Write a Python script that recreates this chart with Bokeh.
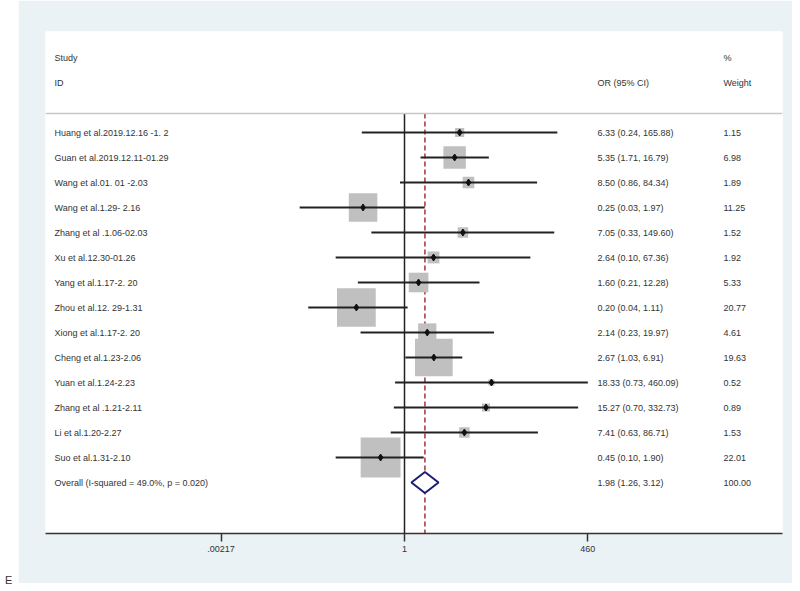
import math
from bokeh.plotting import figure
from bokeh.models import Range1d, FixedTicker, Span, Div
from bokeh.layouts import row
from bokeh.core.properties import value
from bokeh.embed import file_html
from bokeh.resources import INLINE

# ---------------- data ----------------
studies = [
    "Huang  et al.2019.12.16 -1. 2",
    "Guan et al.2019.12.11-01.29",
    "Wang et al.01. 01 -2.03",
    "Wang et al.1.29- 2.16",
    "Zhang  et al .1.06-02.03",
    "Xu et al.12.30-01.26",
    "Yang et al.1.17-2. 20",
    "Zhou et al.12. 29-1.31",
    "Xiong  et al.1.17-2. 20",
    "Cheng et al.1.23-2.06",
    "Yuan  et al.1.24-2.23",
    "Zhang et al .1.21-2.11",
    "Li et al.1.20-2.27",
    "Suo et al.1.31-2.10",
]
odds = [6.33, 5.35, 8.50, 0.25, 7.05, 2.64, 1.60, 0.20, 2.14, 2.67, 18.33, 15.27, 7.41, 0.45]
lower = [0.24, 1.71, 0.86, 0.03, 0.33, 0.10, 0.21, 0.04, 0.23, 1.03, 0.73, 0.70, 0.63, 0.10]
upper = [165.88, 16.79, 84.34, 1.97, 149.60, 67.36, 12.28, 1.11, 19.97, 6.91, 460.09, 332.73, 86.71, 1.90]
weights = [1.15, 6.98, 1.89, 11.25, 1.52, 1.92, 5.33, 20.77, 4.61, 19.63, 0.52, 0.89, 1.53, 22.01]

overall_label = "Overall  (I-squared = 49.0%, p = 0.020)"
overall_or = 1.98
overall_lo = 1.26
overall_hi = 3.12
overall_weight = "100.00"

tick_values = [0.00217, 1, 460]
tick_labels = [".00217", "1", "460"]

# ---------------- layout helpers ----------------
PX_PER_LN = 29.9      # screen px per natural-log unit
X0_PX = 404           # page x of OR = 1
FRAME_L, FRAME_R = 45, 782
FIG_L = 18
FIG_T = 0


def px_to_x(px):
    return math.exp((px - X0_PX) / PX_PER_LN)


ROW_PX = 25.0
ROW1_PX = 132.0
FRAME_T, FRAME_B = 31, 533


def py_to_y(py):
    return 1 + (py - ROW1_PX) / ROW_PX


rows = list(range(1, len(studies) + 1))
overall_row = len(studies) + 1
sep_y = py_to_y(113)
y_bottom = py_to_y(FRAME_B)

TEXT_FONT = value("Liberation Sans")
TEXT_SIZE = "9px"
TEXT_COLOR = "#333333"

FIG_W, FIG_H = 774, 583

p = figure(
    width=FIG_W, height=FIG_H,
    x_axis_type="log",
    x_range=Range1d(px_to_x(FRAME_L), px_to_x(FRAME_R)),
    y_range=Range1d(y_bottom, py_to_y(FRAME_T)),
    y_axis_location=None,
    toolbar_location=None,
    output_backend="svg",
    min_border_left=FRAME_L - FIG_L,
    min_border_right=FIG_L + FIG_W - FRAME_R,
    min_border_top=FRAME_T - FIG_T,
    min_border_bottom=FIG_T + FIG_H - FRAME_B,
)
p.border_fill_color = "#eaf2f6"
p.background_fill_color = "white"
p.outline_line_color = None
p.xgrid.visible = False
p.ygrid.visible = False

# separator line under the header
p.add_layout(Span(location=sep_y, dimension="width", line_color="#c8c8c8", line_width=1.5))

# null line at OR = 1
p.segment(x0=[1], y0=[sep_y], x1=[1], y1=[y_bottom], line_color="#222222", line_width=1.5)
# dashed line at overall estimate
p.segment(x0=[overall_or], y0=[sep_y], x1=[overall_or], y1=[y_bottom],
          line_color="#a8323c", line_width=1.5, line_dash="5 3")

# weight boxes (area ~ weight)
sides = [8.5 * math.sqrt(w) for w in weights]
p.rect(x=odds, y=rows, width=sides, height=sides, width_units="screen", height_units="screen",
       fill_color="#c0c0c0", line_color=None)

# confidence intervals
p.segment(x0=lower, y0=rows, x1=upper, y1=rows, line_color="#222222", line_width=1.8)

# point estimates
p.scatter(x=odds, y=rows, marker="diamond", size=7, fill_color="#111111", line_color="#111111")

# overall diamond
h = 10.5 / ROW_PX
p.patch(x=[overall_lo, overall_or, overall_hi, overall_or],
        y=[overall_row, overall_row - h, overall_row, overall_row + h],
        fill_color="white", line_color="#1c1c74", line_width=2)

# ---------------- text columns ----------------
name_x = px_to_x(54)
or_x = px_to_x(597)
w_x = px_to_x(723)

labels_or = ["%.2f (%.2f, %.2f)" % (o, l, u) for o, l, u in zip(odds, lower, upper)]
labels_w = ["%.2f" % w for w in weights]

common = dict(text_font=TEXT_FONT, text_font_size=TEXT_SIZE, text_color=TEXT_COLOR,
              text_baseline="middle", text_align="left")

p.text(x=[name_x] * (len(studies) + 1), y=rows + [overall_row], text=studies + [overall_label], **common)
p.text(x=[or_x] * (len(studies) + 1), y=rows + [overall_row],
       text=labels_or + ["%.2f (%.2f, %.2f)" % (overall_or, overall_lo, overall_hi)], **common)
p.text(x=[w_x] * (len(studies) + 1), y=rows + [overall_row], text=labels_w + [overall_weight], **common)

# header
p.text(x=[name_x, name_x, or_x, w_x, w_x],
       y=[py_to_y(57), py_to_y(82), py_to_y(82), py_to_y(57), py_to_y(82)],
       text=["Study", "ID", "OR (95% CI)", "%", "Weight"], **common)

# ---------------- axis ----------------
ax = p.xaxis[0]
ax.ticker = FixedTicker(ticks=tick_values, minor_ticks=[])
ax.major_label_overrides = {v: t for v, t in zip(tick_values, tick_labels)}
ax.major_tick_in = 0
ax.major_tick_out = 8
ax.minor_tick_in = 0
ax.minor_tick_out = 0
ax.axis_line_color = "#333333"
ax.axis_line_width = 1.5
ax.major_tick_line_color = "#333333"
ax.major_tick_line_width = 1.5
ax.major_label_text_font = "Liberation Sans"
ax.major_label_text_font_size = TEXT_SIZE
ax.major_label_text_color = TEXT_COLOR
ax.major_label_standoff = 4

side_label = Div(
    text='<div style="margin-top:568px;font-family:\'Liberation Sans\';font-size:11px;color:#333">E</div>',
    width=8, height=FIG_H,
)

layout = row(side_label, p)

open("out.html", "w").write(file_html(layout, INLINE))
